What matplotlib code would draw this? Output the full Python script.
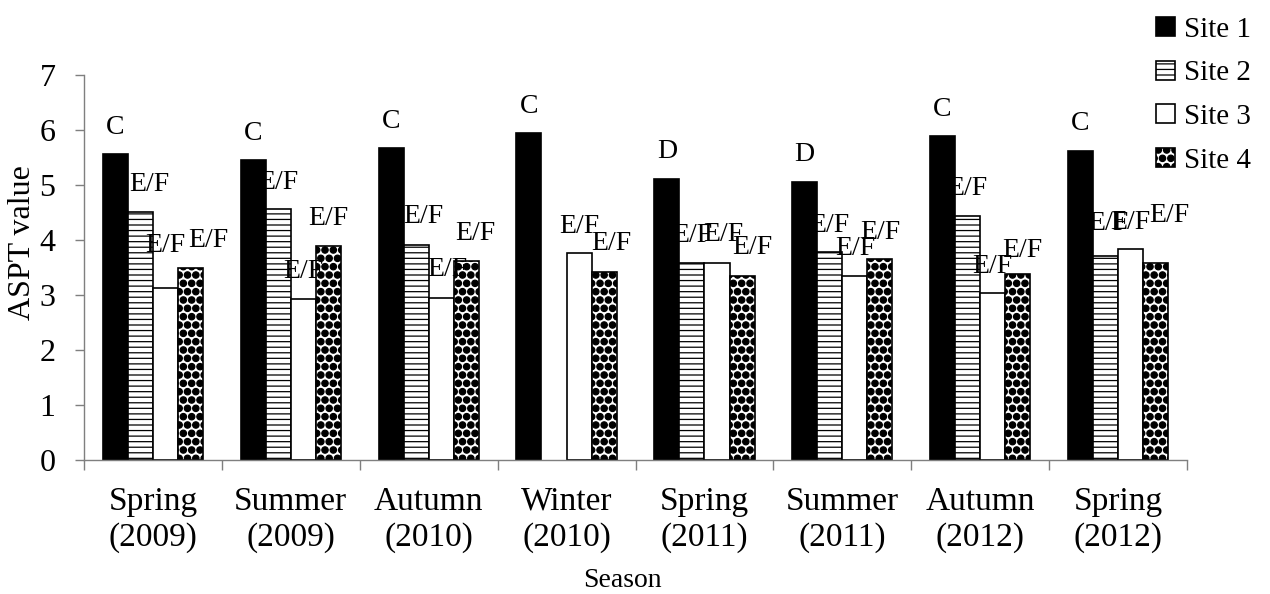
import numpy as np
import matplotlib
matplotlib.use("Agg")
import matplotlib.pyplot as plt
from matplotlib import hatch as mhatch

# bigger dots for the "Site 4" fill (Excel-style dotted diamond)
mhatch.SmallFilledCircles.size = 0.38

plt.rcParams['font.family'] = ['Liberation Serif', 'DejaVu Serif']
plt.rcParams['hatch.linewidth'] = 0.9

# data
seasons = ['Spring\n(2009)', 'Summer\n(2009)', 'Autumn\n(2010)', 'Winter\n(2010)',
           'Spring\n(2011)', 'Summer\n(2011)', 'Autumn\n(2012)', 'Spring\n(2012)']
site1 = [5.56, 5.45, 5.67, 5.94, 5.11, 5.06, 5.89, 5.62]
site2 = [4.51, 4.56, 3.91, np.nan, 3.59, 3.78, 4.44, 3.71]
site3 = [3.12, 2.93, 2.94, 3.76, 3.59, 3.35, 3.03, 3.83]
site4 = [3.50, 3.90, 3.62, 3.42, 3.35, 3.65, 3.39, 3.59]
sites = ['Site 1', 'Site 2', 'Site 3', 'Site 4']

grp1 = ['C', 'C', 'C', 'C', 'D', 'D', 'C', 'C']
grp_other = 'E/F'

# label nudges (pixels) where the original labels were moved by hand
nudge = {
    (0, 1): (9, 27), (0, 2): (0, 43), (0, 3): (18, 27),
    (2, 1): (7, 28), (2, 2): (6, 29), (2, 3): (9, 27),
    (3, 3): (7, 28),
    (4, 2): (6, 28), (4, 3): (10, 28),
    (6, 3): (5, 23),
    (7, 1): (3, 32), (7, 3): (14, 47),
}

styles = [
    dict(facecolor='black', hatch=None),
    dict(facecolor='white', hatch='---'),
    dict(facecolor='white', hatch=None),
    dict(facecolor='white', hatch='..'),
]

fig = plt.figure(figsize=(12.7, 5.94), dpi=100)
ax = fig.add_axes([84 / 1270, 134 / 594, 1103 / 1270, 385 / 594])

x = np.arange(len(seasons))
width = 0.182
values = [site1, site2, site3, site4]
bars = []
for i, (vals, st) in enumerate(zip(values, styles)):
    pos = x + (i - 1.5) * width
    b = ax.bar(pos, vals, width, facecolor=st['facecolor'], hatch=st['hatch'],
               edgecolor='black', linewidth=1.2, label=sites[i], zorder=2)
    bars.append(b)
    for j, v in enumerate(vals):
        if np.isnan(v):
            continue
        txt = grp1[j] if i == 0 else grp_other
        dx, dy = nudge.get((j, i), (0, 27))
        ax.annotate(txt, xy=(pos[j], v), xytext=(dx, dy), textcoords='offset pixels',
                    ha='center', va='center', fontsize=20, zorder=3)

ax.set_xlim(-0.5, len(seasons) - 0.5)
ax.set_ylim(0, 7)
ax.set_yticks(range(8))
ax.tick_params(axis='y', labelsize=23, length=6.5, width=1, color='#7f7f7f', pad=14)

ax.set_xticks(np.arange(-0.5, len(seasons)), labels=[])
ax.set_xticks(x, labels=seasons, minor=True)
ax.tick_params(axis='x', which='major', length=7, width=1, color='#7f7f7f')
ax.tick_params(axis='x', which='minor', length=0, labelsize=24, pad=19)
for lab in ax.get_xticklabels(minor=True):
    lab.set_linespacing(1.23)

for s in ['top', 'right']:
    ax.spines[s].set_visible(False)
for s in ['left', 'bottom']:
    ax.spines[s].set_color('#7f7f7f')
    ax.spines[s].set_linewidth(1)

fig.text(23 / 1270, 1 - 243 / 594, 'ASPT value', rotation=90, ha='center', va='center',
         fontsize=23)
fig.text(622 / 1270, 1 - 568 / 594, 'Season', ha='center', va='top', fontsize=20)

fig.legend(handles=bars, labels=sites, loc='upper left',
           bbox_to_anchor=(1156 / 1270, 1 - 17 / 594), frameon=False,
           fontsize=21, handlelength=0.65, handleheight=0.65, handletextpad=0.3,
           labelspacing=0.6, borderpad=0, borderaxespad=0)

fig.savefig('out.png', dpi=100)
